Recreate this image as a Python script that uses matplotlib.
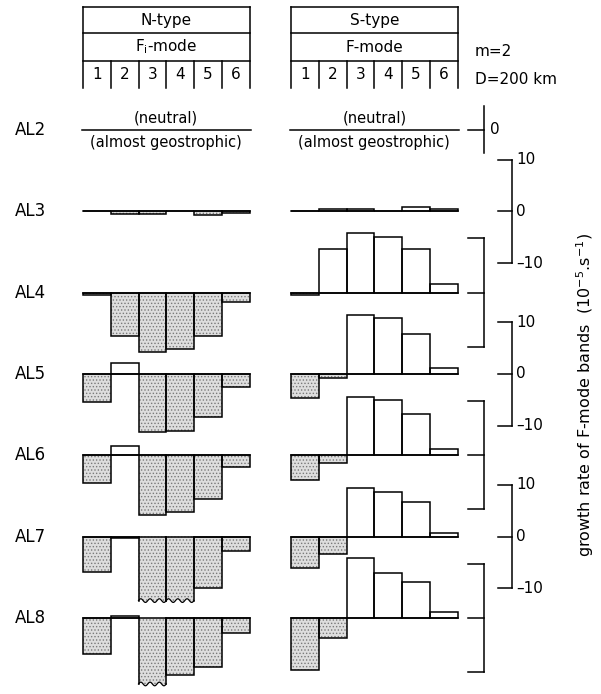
#growth rate of F-mode bands, N-type vs S-type, rows AL2..AL8
import numpy as np
import matplotlib.pyplot as plt
from matplotlib.patches import Polygon

plt.rcParams['font.family'] = 'DejaVu Sans'
plt.rcParams['hatch.linewidth'] = 0.6

rows = ['AL2', 'AL3', 'AL4', 'AL5', 'AL6', 'AL7', 'AL8']
bands = [1, 2, 3, 4, 5, 6]

# growth rates in 1e-5 s^-1 (AL2 is neutral, no bars)
n_al3 = [0.0, -0.5, -0.5, 0.0, -0.8, -0.3]
n_al4 = [-0.4, -8.4, -11.5, -10.9, -8.4, -1.9]
n_al5 = [-5.4, 2.1, -11.3, -11.0, -8.4, -2.5]
n_al6 = [-5.4, 1.8, -11.5, -11.0, -8.4, -2.3]
n_al7 = [-6.8, -0.3, -12.4, -12.4, -9.9, -2.9]
n_al8 = [-7.0, 0.4, -12.8, -11.1, -9.5, -2.9]

s_al3 = [0.0, 0.4, 0.4, 0.0, 0.8, 0.4]
s_al4 = [-0.4, 8.4, 11.5, 10.7, 8.4, 1.7]
s_al5 = [-4.6, -0.8, 11.4, 10.8, 7.8, 1.2]
s_al6 = [-4.8, -1.6, 11.3, 10.7, 8.0, 1.2]
s_al7 = [-6.0, -3.3, 9.3, 8.7, 6.6, 0.6]
s_al8 = [-10.1, -3.9, 11.5, 8.7, 7.0, 1.2]

# off-scale bars (drawn with a torn bottom)
n_broken = {'AL7': [3, 4], 'AL8': [3]}

n_rows = {'AL3': n_al3, 'AL4': n_al4, 'AL5': n_al5, 'AL6': n_al6, 'AL7': n_al7, 'AL8': n_al8}
s_rows = {'AL3': s_al3, 'AL4': s_al4, 'AL5': s_al5, 'AL6': s_al6, 'AL7': s_al7, 'AL8': s_al8}

# layout: one band column = COL_PX pixels, one growth unit = UNIT_PX pixels
COL_PX = 27.75
UNIT_PX = 5.17
X0_PX = 83
Y0_PX = 130
ROW = 81.3 / UNIT_PX
S_OFF = 7.5
LW = 1.1
FILL = '#dedede'
DOTS = '#7a7a7a'


def x_of(px):
    return (px - X0_PX) / COL_PX


def y_of(px):
    return (Y0_PX - px) / UNIT_PX


def base_of(name):
    return -ROW * rows.index(name)


def broken_bar(ax, xi, base, v):
    xs = np.linspace(xi, xi + 1, 80)
    ys = base + v + 0.35 * np.sin(2 * np.pi * 3 * (xs - xi))
    pts = [(xi, base)] + list(zip(xs, ys)) + [(xi + 1, base)]
    ax.add_patch(Polygon(pts, closed=True, facecolor=FILL, edgecolor=DOTS,
                         hatch='.....', linewidth=0, zorder=2))
    ax.plot([xi, xi], [base, ys[0]], color='k', lw=LW, zorder=3)
    ax.plot([xi + 1, xi + 1], [base, ys[-1]], color='k', lw=LW, zorder=3)
    ax.plot(xs, ys, color='k', lw=LW * 0.8, zorder=3)


def draw_row(ax, x0, base, vals, broken=()):
    for band, v in zip(bands, vals):
        xi = x0 + band - 1
        if band in broken:
            broken_bar(ax, xi, base, v)
            continue
        if v < 0:
            ax.bar(xi, v, width=1, bottom=base, align='edge', color=FILL,
                   edgecolor=DOTS, hatch='.....', linewidth=0, zorder=2)
        ax.bar(xi, v, width=1, bottom=base, align='edge', fill=False,
               edgecolor='k', linewidth=LW, zorder=3)
    ax.plot([x0, x0 + 6], [base, base], color='k', lw=LW, zorder=4)


def header(ax, x0, title, mode):
    top, m1, m2, bot = y_of(7), y_of(33), y_of(61), y_of(88)
    for y in (top, m1, m2):
        ax.plot([x0, x0 + 6], [y, y], color='k', lw=LW)
    ax.plot([x0, x0], [bot, top], color='k', lw=LW)
    ax.plot([x0 + 6, x0 + 6], [bot, top], color='k', lw=LW)
    for i in range(1, 6):
        ax.plot([x0 + i, x0 + i], [bot, m2], color='k', lw=LW)
    ax.text(x0 + 3, (top + m1) / 2, title, ha='center', va='center', fontsize=11)
    ax.text(x0 + 3, (m1 + m2) / 2, mode, ha='center', va='center', fontsize=11)
    for band in bands:
        ax.text(x0 + band - 0.5, (m2 + bot) / 2, str(band), ha='center',
                va='center', fontsize=11)


def neutral(ax, x0):
    ax.plot([x0 - 0.05, x0 + 6.05], [0, 0], color='k', lw=LW)
    ax.text(x0 + 3, y_of(118), '(neutral)', ha='center', va='center', fontsize=10.5)
    ax.text(x0 + 3, y_of(142), '(almost geostrophic)', ha='center', va='center',
            fontsize=10.5)


fig = plt.figure(figsize=(6.01, 6.94), dpi=100)
ax = fig.add_axes([0, 0, 1, 1])
ax.set_xlim(x_of(0), x_of(601))
ax.set_ylim(y_of(694), y_of(0))
ax.axis('off')

header(ax, 0, 'N-type', 'F$_\\mathregular{i}$-mode')
header(ax, S_OFF, 'S-type', 'F-mode')
ax.text(x_of(475), y_of(52), 'm=2', ha='left', va='center', fontsize=11)
ax.text(x_of(475), y_of(79), 'D=200 km', ha='left', va='center', fontsize=11)

for name in rows:
    ax.text(x_of(15), base_of(name), name, ha='left', va='center', fontsize=12)

neutral(ax, 0)
neutral(ax, S_OFF)
for name in rows[1:]:
    draw_row(ax, 0, base_of(name), n_rows[name], n_broken.get(name, ()))
    draw_row(ax, S_OFF, base_of(name), s_rows[name])

# scale marks
xb, xt = x_of(484), x_of(468)
ax.plot([xb, xb], [y_of(106), y_of(153)], color='k', lw=LW)
ax.plot([xt, xb], [0, 0], color='k', lw=LW)
ax.text(x_of(490), 0, '0', ha='left', va='center', fontsize=11)

xs_, xst = x_of(512), x_of(498)
for name in ['AL3', 'AL5', 'AL7']:
    b = base_of(name)
    ax.plot([xs_, xs_], [b - 10, b + 10], color='k', lw=LW)
    for tick, lab in [(10, '10'), (0, '0'), (-10, '–10')]:
        ax.plot([xst, xs_], [b + tick, b + tick], color='k', lw=LW)
        ax.text(x_of(516), b + tick, lab, ha='left', va='center', fontsize=11)

for name in ['AL4', 'AL6', 'AL8']:
    b = base_of(name)
    ax.plot([xb, xb], [b - 10.5, b + 10.5], color='k', lw=LW)
    for tick in (10.5, 0, -10.5):
        ax.plot([xt, xb], [b + tick, b + tick], color='k', lw=LW)

ax.text(x_of(585), y_of(395), 'growth rate of F-mode bands  (10$^{-5}$.s$^{-1}$)',
        rotation=90, ha='center', va='center', fontsize=11.5)

fig.savefig('out.png', dpi=100)
